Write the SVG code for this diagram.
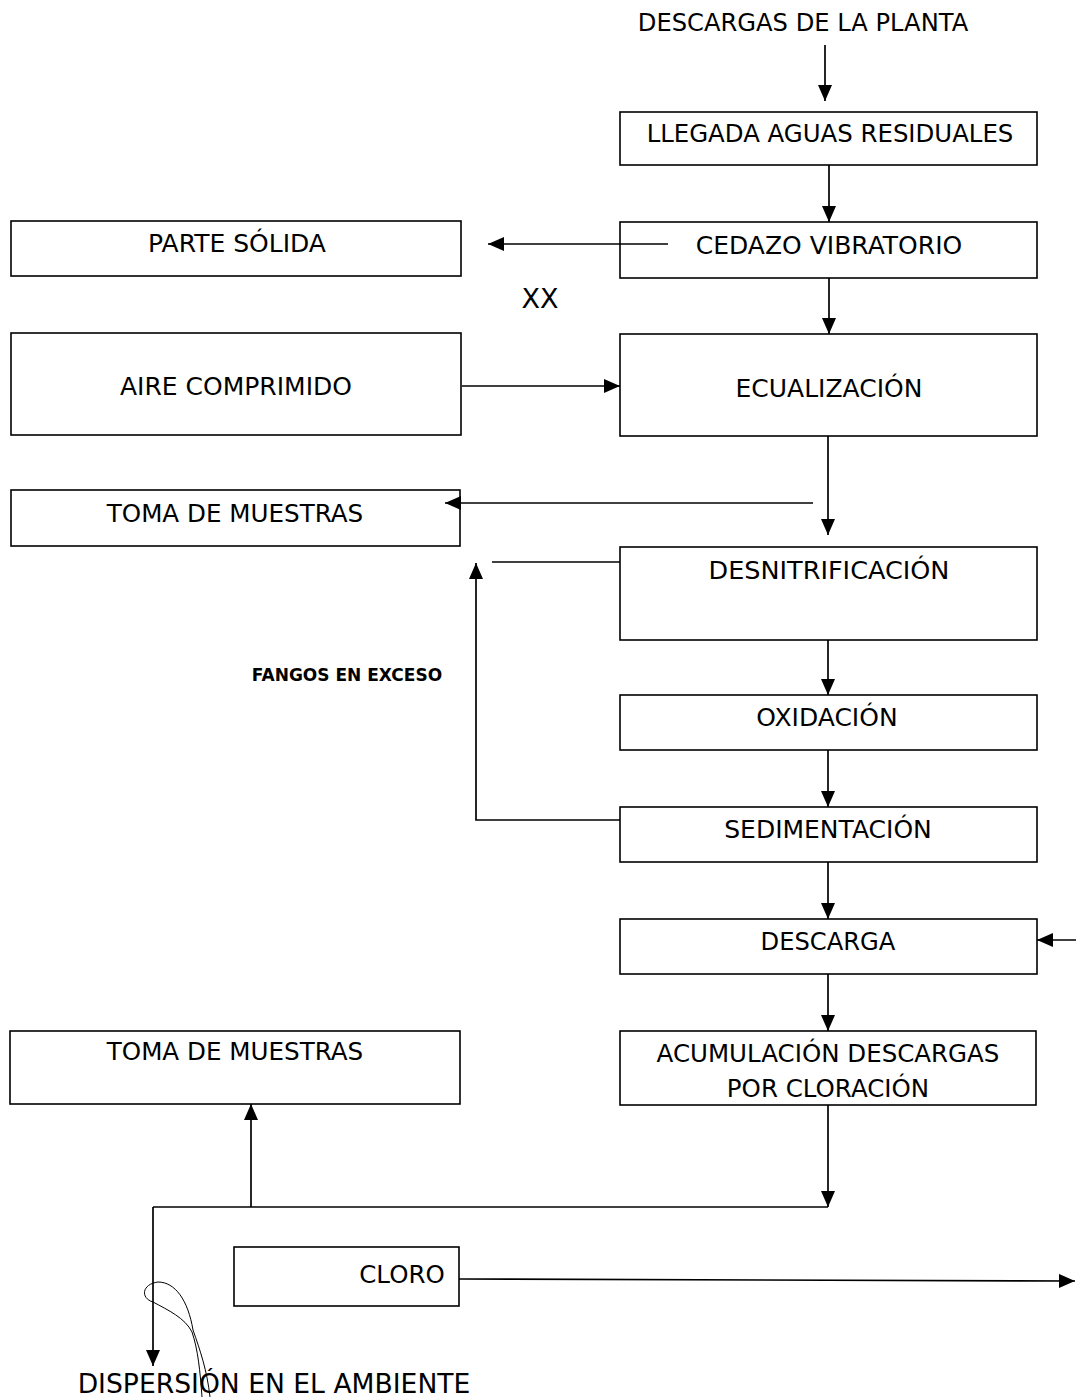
<svg xmlns="http://www.w3.org/2000/svg" width="1076" height="1397" viewBox="0 0 1076 1397">
<defs>
<marker id="ah" markerUnits="userSpaceOnUse" markerWidth="17" markerHeight="14" refX="16" refY="7" orient="auto">
<path d="M0,0 L16,7 L0,14 z" fill="#000"/>
</marker>
<style>
.box{fill:#fff;stroke:#000;stroke-width:1.6}
.t{font-family:"DejaVu Sans","Verdana",sans-serif;font-size:25px;fill:#000;text-anchor:middle}
.s{font-family:"DejaVu Sans","Verdana",sans-serif;font-size:17px;font-weight:bold;fill:#000;text-anchor:middle}
.c{fill:none;stroke:#000;stroke-width:1.7}
.a{fill:none;stroke:#000;stroke-width:1.7;marker-end:url(#ah)}
</style>
</defs>
<rect width="1076" height="1397" fill="#fff"/>
<g id="n-descargas-planta"><text class="t" x="803" y="31" style="font-size:24.2px">DESCARGAS DE LA PLANTA</text></g>
<g id="n-llegada"><rect class="box" x="620" y="112" width="417" height="53"/><text class="t" x="830" y="142" style="font-size:24.4px">LLEGADA AGUAS RESIDUALES</text></g>
<g id="n-cedazo"><rect class="box" x="620" y="222" width="417" height="56"/><text class="t" x="829" y="254">CEDAZO VIBRATORIO</text></g>
<g id="n-parte-solida"><rect class="box" x="11" y="221" width="450" height="55"/><text class="t" x="237" y="252">PARTE SÓLIDA</text></g>
<g id="n-xx"><text class="t" x="540" y="308" style="font-size:27px">XX</text></g>
<g id="n-aire"><rect class="box" x="11" y="333" width="450" height="102"/><text class="t" x="236" y="395">AIRE COMPRIMIDO</text></g>
<g id="n-ecualizacion"><rect class="box" x="620" y="334" width="417" height="102"/><text class="t" x="829" y="397">ECUALIZACIÓN</text></g>
<g id="n-toma1"><rect class="box" x="11" y="490" width="449" height="56"/><text class="t" x="235" y="522" style="font-size:24.6px">TOMA DE MUESTRAS</text></g>
<g id="n-desnitrificacion"><rect class="box" x="620" y="547" width="417" height="93"/><text class="t" x="829" y="579" style="font-size:25.5px">DESNITRIFICACIÓN</text></g>
<g id="n-fangos"><text class="s" x="347" y="681">FANGOS EN EXCESO</text></g>
<g id="n-oxidacion"><rect class="box" x="620" y="695" width="417" height="55"/><text class="t" x="827" y="726">OXIDACIÓN</text></g>
<g id="n-sedimentacion"><rect class="box" x="620" y="807" width="417" height="55"/><text class="t" x="828" y="838">SEDIMENTACIÓN</text></g>
<g id="n-descarga"><rect class="box" x="620" y="919" width="417" height="55"/><text class="t" x="828" y="950" style="font-size:24.2px">DESCARGA</text></g>
<g id="n-acumulacion"><rect class="box" x="620" y="1031" width="416" height="74"/><text class="t" x="828" y="1062" style="font-size:24.5px">ACUMULACIÓN DESCARGAS</text><text class="t" x="828" y="1097" style="font-size:24.5px">POR CLORACIÓN</text></g>
<g id="n-toma2"><rect class="box" x="10" y="1031" width="450" height="73"/><text class="t" x="235" y="1060" style="font-size:24.6px">TOMA DE MUESTRAS</text></g>
<g id="n-cloro"><rect class="box" x="234" y="1247" width="225" height="59"/><text class="t" x="402" y="1283" style="font-size:24.5px">CLORO</text></g>
<g id="n-dispersion"><text class="t" x="274" y="1393" style="font-size:26.6px">DISPERSIÓN EN EL AMBIENTE</text></g>
<g id="connectors">
<line class="a" x1="825" y1="45" x2="825" y2="101"/>
<line class="a" x1="829" y1="165" x2="829" y2="222"/>
<line class="a" x1="668" y1="244" x2="488" y2="244"/>
<line class="a" x1="829" y1="278" x2="829" y2="334"/>
<line class="a" x1="462" y1="386" x2="620" y2="386"/>
<line class="a" x1="828" y1="436" x2="828" y2="535"/>
<line class="a" x1="813" y1="503" x2="445" y2="503"/>
<line class="c" x1="620" y1="562" x2="492" y2="562"/>
<polyline class="a" points="620,820 476,820 476,563"/>
<line class="a" x1="828" y1="640" x2="828" y2="695"/>
<line class="a" x1="828" y1="750" x2="828" y2="807"/>
<line class="a" x1="828" y1="862" x2="828" y2="919"/>
<line class="a" x1="828" y1="974" x2="828" y2="1031"/>
<line class="a" x1="1076" y1="940" x2="1037" y2="940"/>
<line class="a" x1="828" y1="1105" x2="828" y2="1207"/>
<line class="c" x1="828" y1="1207" x2="153" y2="1207"/>
<line class="a" x1="251" y1="1207" x2="251" y2="1104"/>
<line class="a" x1="153" y1="1207" x2="153" y2="1366"/>
<line class="a" x1="459" y1="1279" x2="1075" y2="1281"/>
</g>
<g id="scribble" fill="none" stroke="#000" stroke-width="1">
<path d="M153,1302 C140,1298 142,1284 158,1282 C175,1282 188,1300 193,1330 C200,1350 207,1370 210,1397"/>
<path d="M153,1302 C168,1310 185,1318 192,1332 C198,1350 200,1370 202,1397"/>
</g>
</svg>
